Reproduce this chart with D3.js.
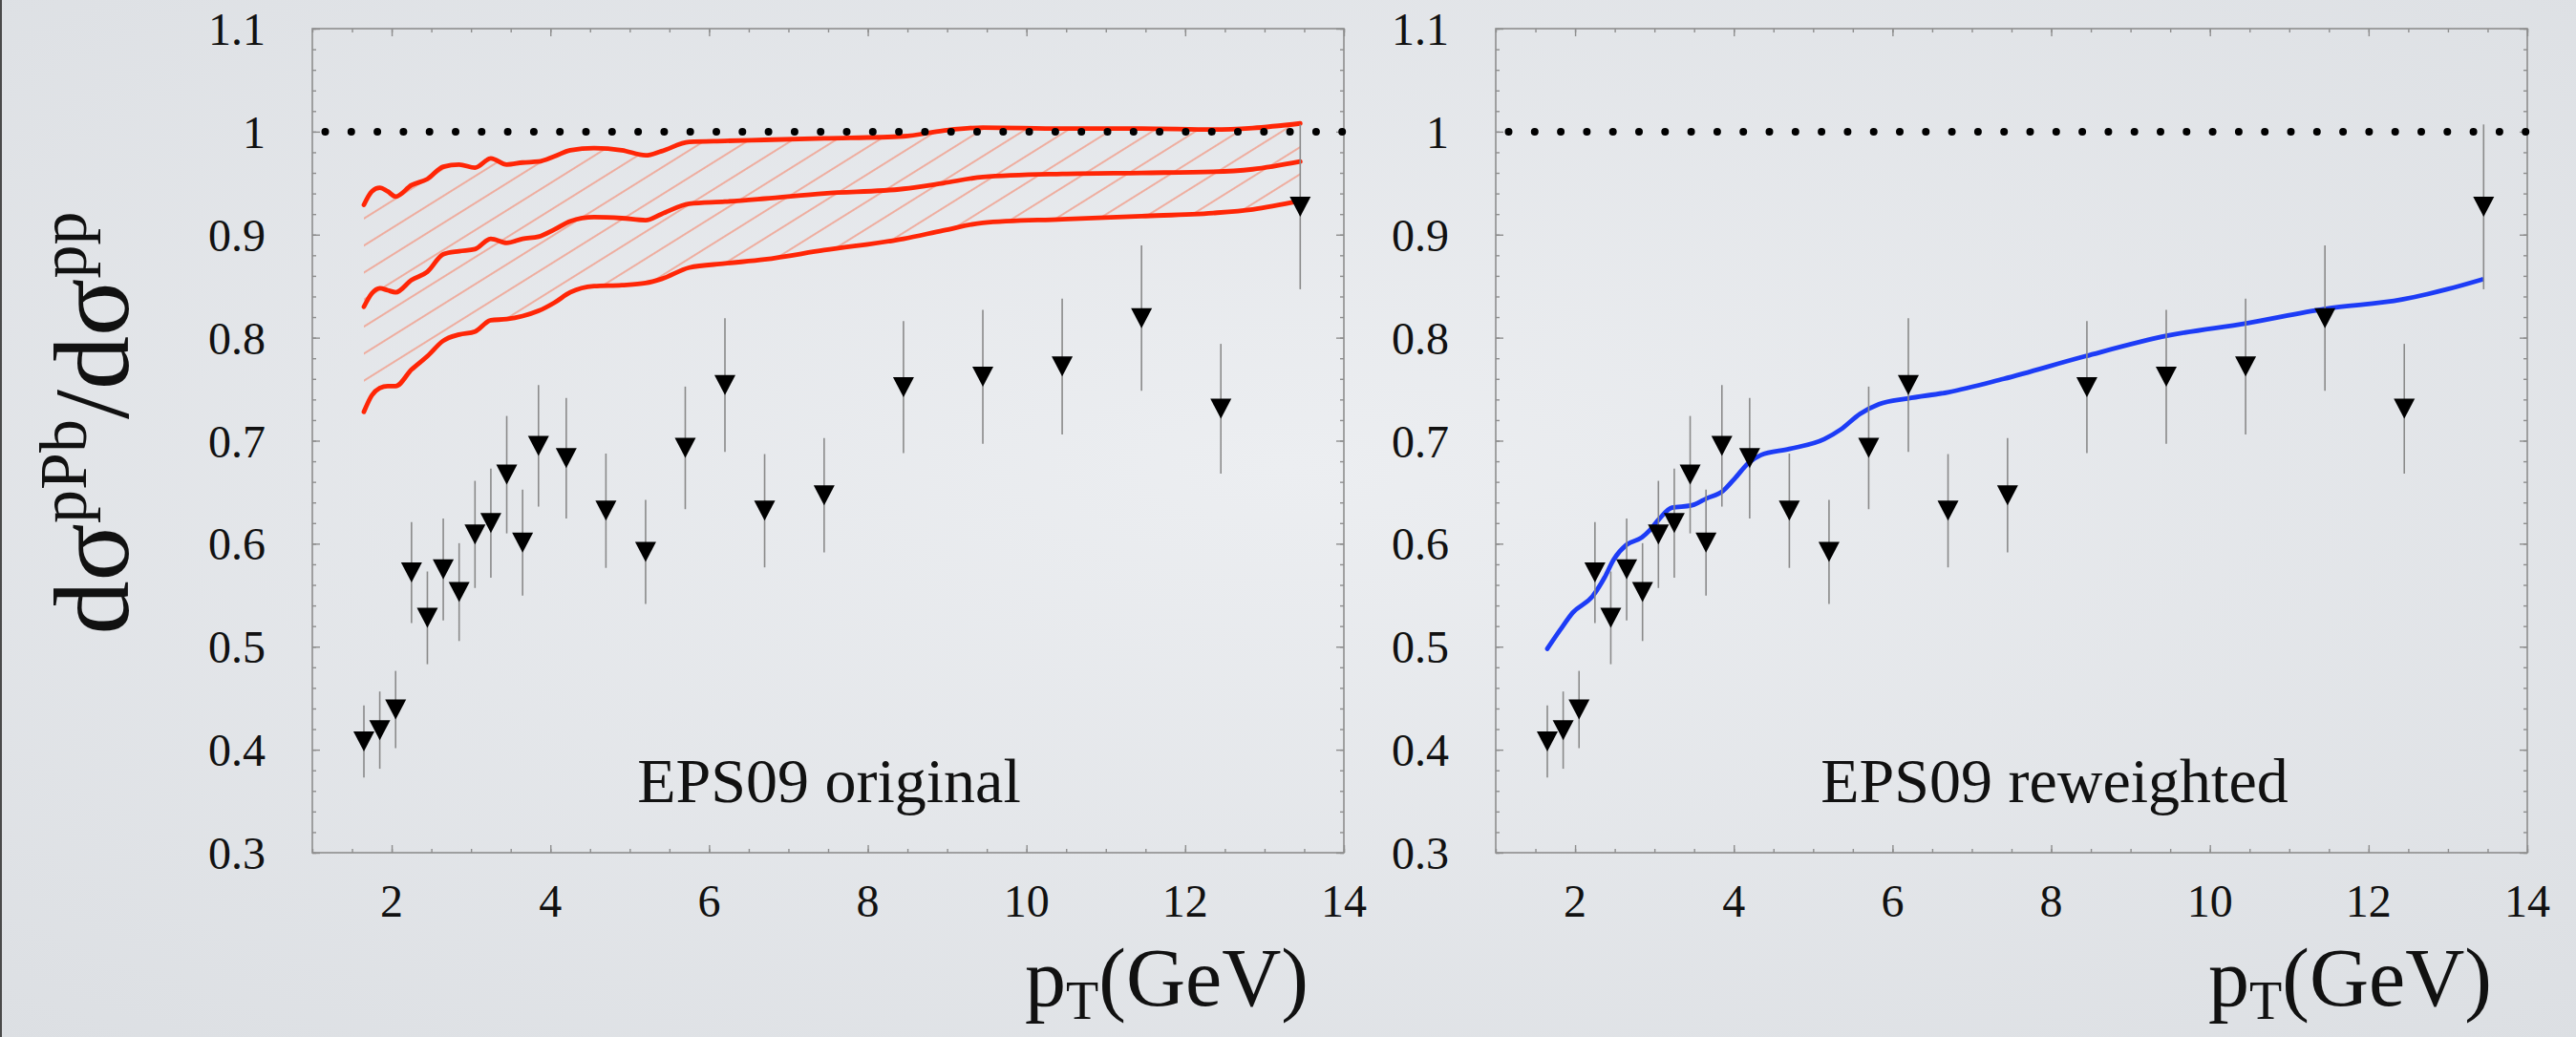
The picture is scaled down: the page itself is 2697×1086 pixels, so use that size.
<!DOCTYPE html>
<html>
<head>
<meta charset="utf-8">
<script src="https://cdn.jsdelivr.net/npm/d3@7"></script>
<style>
  html, body { margin: 0; padding: 0; overflow: hidden; background: #e4e6ea; }
  svg { display: block; }
  text { font-family: "Liberation Serif", "DejaVu Serif", serif; fill: #111; }
</style>
</head>
<body>
<svg id="chart" width="2697" height="1086" font-family="Liberation Serif, serif"></svg>
<script>
// ---- measured nuclear modification ratio (same data in both panels) ----
const ptBins = [1.65, 1.85, 2.05, 2.25, 2.45, 2.65, 2.85, 3.05, 3.25, 3.45, 3.65, 3.85,
                4.2, 4.7, 5.2, 5.7, 6.2, 6.7, 7.45, 8.45, 9.45, 10.45, 11.45, 12.45, 13.45];
const ratio = [0.408, 0.419, 0.439, 0.572, 0.528, 0.575, 0.553, 0.609, 0.620, 0.667, 0.601, 0.695,
               0.683, 0.632, 0.592, 0.693, 0.754, 0.632, 0.647, 0.752, 0.762, 0.772, 0.819, 0.731, 0.927];
const ratioErr = [0.035, 0.0375, 0.0375, 0.049, 0.045, 0.0495, 0.0475, 0.052, 0.053, 0.057, 0.0515, 0.059,
                  0.0585, 0.0555, 0.0505, 0.0595, 0.065, 0.055, 0.0555, 0.064, 0.065, 0.066, 0.0705, 0.063, 0.08];

// ---- EPS09 original: central set and uncertainty band ----
const bandPt = [1.65, 1.75, 1.85, 1.95, 2.05, 2.25, 2.45, 2.65, 2.85, 3.05, 3.25, 3.45, 3.65, 3.85,
                4.05, 4.25, 4.55, 4.9, 5.2, 5.4, 5.75, 6.2, 6.7, 7.45, 8.45, 8.95, 9.45, 10.45,
                11.45, 12.35, 12.85, 13.45];
const bandUpper = [0.929, 0.942, 0.9455, 0.942, 0.937, 0.948, 0.954, 0.966, 0.968, 0.965, 0.974, 0.968, 0.970, 0.971,
                   0.976, 0.982, 0.984, 0.982, 0.977, 0.981, 0.990, 0.991, 0.992, 0.9935, 0.9955, 1.001, 1.004, 1.003,
                   1.003, 1.002, 1.0035, 1.008];
const bandCentral = [0.830, 0.843, 0.848, 0.846, 0.844, 0.856, 0.864, 0.881, 0.884, 0.886, 0.896, 0.892, 0.896, 0.898,
                     0.905, 0.913, 0.917, 0.916, 0.914, 0.920, 0.930, 0.932, 0.935, 0.940, 0.9445, 0.950, 0.956, 0.959,
                     0.960, 0.961, 0.9635, 0.971];
const bandLower = [0.728, 0.744, 0.751, 0.753, 0.753, 0.769, 0.782, 0.797, 0.803, 0.806, 0.817, 0.818, 0.821, 0.826,
                   0.834, 0.844, 0.850, 0.851, 0.853, 0.857, 0.868, 0.872, 0.876, 0.885, 0.896, 0.904, 0.9115, 0.915,
                   0.918, 0.921, 0.9245, 0.933];

// ---- EPS09 reweighted ----
const rwPt = [1.65, 1.81, 1.97, 2.22, 2.37, 2.49, 2.65, 2.84, 2.94, 3.06, 3.22, 3.46, 3.66, 3.86, 4.02, 4.18,
              4.34, 4.70, 5.14, 5.35, 5.59, 5.83, 6.19, 6.7, 7.40, 8.43, 9.47, 10.46, 11.46, 12.42, 12.99, 13.43];
const rwRatio = [0.498, 0.516, 0.533, 0.549, 0.567, 0.585, 0.599, 0.606, 0.613, 0.624, 0.635, 0.637, 0.644, 0.651, 0.664, 0.678,
                 0.686, 0.692, 0.7015, 0.711, 0.726, 0.7355, 0.741, 0.747, 0.760, 0.782, 0.802, 0.814, 0.828, 0.837, 0.847, 0.8565];

// ---- axes ----
const xTicks = [2, 4, 6, 8, 10, 12, 14];
const yTicks = [0.3, 0.4, 0.5, 0.6, 0.7, 0.8, 0.9, 1.0, 1.1];
const yTickLabels = ["0.3", "0.4", "0.5", "0.6", "0.7", "0.8", "0.9", "1", "1.1"];
const panelLabels = ["EPS09 original", "EPS09 reweighted"];

const svg = d3.select("#chart");
const W = 2697, H = 1086;

// soft slide-like backdrop
const defs = svg.append("defs");
const bg = defs.append("radialGradient").attr("id", "bg").attr("cx", "50%").attr("cy", "45%").attr("r", "75%");
bg.append("stop").attr("offset", "0%").attr("stop-color", "#eceef1");
bg.append("stop").attr("offset", "100%").attr("stop-color", "#dcdfe3");
svg.append("rect").attr("width", W).attr("height", H).attr("fill", "url(#bg)");
svg.append("line").attr("x1", 1).attr("x2", 1).attr("y1", 0).attr("y2", H)
  .attr("stroke", "#4a4a4a").attr("stroke-width", 2);

// diagonal hatching for the uncertainty band
defs.append("pattern").attr("id", "hatch").attr("patternUnits", "userSpaceOnUse")
  .attr("width", 24).attr("height", 24).attr("patternTransform", "rotate(-32)")
  .append("line").attr("x1", 0).attr("x2", 24).attr("y1", 12).attr("y2", 12)
  .attr("stroke", "#f29580").attr("stroke-width", 1.4);

const plotTop = 30, plotBottom = 893;
const panels = [{ x0: 327, x1: 1407, label: panelLabels[0], labelX: 868 },
                { x0: 1566, x1: 2646, label: panelLabels[1], labelX: 2151 }];

const y = d3.scaleLinear().domain([0.3, 1.1]).range([plotBottom, plotTop]);
const yMinor = d3.range(0.3, 1.1001, 0.02).map(v => +v.toFixed(2));
const xMinor = d3.range(1, 14.001, 0.5);
const frameColor = "#8e8e8e";

panels.forEach((p, i) => {
  const x = d3.scaleLinear().domain([1, 14]).range([p.x0, p.x1]);
  p.x = x;
  const g = svg.append("g");

  // inward ticks on all four sides
  const tickStyle = sel => sel.call(s => s.select(".domain").remove())
    .call(s => s.selectAll("line").attr("stroke", frameColor).attr("stroke-width", 1.4));
  g.append("g").attr("transform", `translate(0,${plotBottom})`)
    .call(d3.axisBottom(x).tickValues(xMinor).tickSize(-4).tickFormat("")).call(tickStyle);
  g.append("g").attr("transform", `translate(0,${plotBottom})`)
    .call(d3.axisBottom(x).tickValues(xTicks).tickSize(-8).tickFormat("")).call(tickStyle);
  g.append("g").attr("transform", `translate(0,${plotTop})`)
    .call(d3.axisTop(x).tickValues(xMinor).tickSize(-4).tickFormat("")).call(tickStyle);
  g.append("g").attr("transform", `translate(0,${plotTop})`)
    .call(d3.axisTop(x).tickValues(xTicks).tickSize(-8).tickFormat("")).call(tickStyle);
  g.append("g").attr("transform", `translate(${p.x0},0)`)
    .call(d3.axisLeft(y).tickValues(yMinor).tickSize(-4).tickFormat("")).call(tickStyle);
  g.append("g").attr("transform", `translate(${p.x0},0)`)
    .call(d3.axisLeft(y).tickValues(yTicks).tickSize(-8).tickFormat("")).call(tickStyle);
  g.append("g").attr("transform", `translate(${p.x1},0)`)
    .call(d3.axisRight(y).tickValues(yMinor).tickSize(-4).tickFormat("")).call(tickStyle);
  g.append("g").attr("transform", `translate(${p.x1},0)`)
    .call(d3.axisRight(y).tickValues(yTicks).tickSize(-8).tickFormat("")).call(tickStyle);

  g.append("rect").attr("x", p.x0).attr("y", plotTop).attr("width", p.x1 - p.x0).attr("height", plotBottom - plotTop)
    .attr("fill", "none").attr("stroke", frameColor).attr("stroke-width", 1.6);

  // tick labels
  g.selectAll(".xl").data(xTicks).join("text")
    .attr("x", d => x(d)).attr("y", 960).attr("text-anchor", "middle")
    .attr("font-size", 48).text(d => d);
  g.selectAll(".yl").data(yTicks).join("text")
    .attr("x", p.x0 - 49).attr("y", d => y(d) + 17).attr("text-anchor", "end")
    .attr("font-size", 48).text((d, k) => yTickLabels[k]);

  // panel label
  g.append("text").attr("x", p.labelX).attr("y", 840).attr("text-anchor", "middle")
    .attr("font-size", 66).text(p.label);

  // x-axis title
  const xt = g.append("text").attr("x", p.x1 - 37).attr("y", 1053).attr("text-anchor", "end")
    .attr("font-size", 86);
  xt.append("tspan").text("p");
  xt.append("tspan").attr("font-size", 56).attr("dy", 14).text("T");
  xt.append("tspan").attr("dy", -14).text("(GeV)");
});

// ---- left panel: EPS09 original band ----
{
  const x = panels[0].x;
  const g = svg.append("g");
  const idx = d3.range(bandPt.length);
  g.append("path").datum(idx)
    .attr("d", d3.area().x(k => x(bandPt[k])).y0(k => y(bandLower[k])).y1(k => y(bandUpper[k]))
      .curve(d3.curveMonotoneX))
    .attr("fill", "url(#hatch)");
  [bandUpper, bandCentral, bandLower].forEach(arr => {
    g.append("path").datum(idx)
      .attr("d", d3.line().x(k => x(bandPt[k])).y(k => y(arr[k])).curve(d3.curveMonotoneX))
      .attr("fill", "none").attr("stroke", "#ff2606").attr("stroke-width", 4.8)
      .attr("stroke-linejoin", "round").attr("stroke-linecap", "round");
  });
}

// ---- right panel: EPS09 reweighted ----
{
  const x = panels[1].x;
  svg.append("path").datum(d3.range(rwPt.length))
    .attr("d", d3.line().x(k => x(rwPt[k])).y(k => y(rwRatio[k])).curve(d3.curveMonotoneX))
    .attr("fill", "none").attr("stroke", "#1d3cf6").attr("stroke-width", 4.8)
    .attr("stroke-linecap", "round");
}

// ---- unity reference line and data points in both panels ----
panels.forEach(p => {
  const x = p.x;
  const g = svg.append("g");
  g.append("line").attr("x1", x(1)).attr("x2", x(14)).attr("y1", y(1)).attr("y2", y(1))
    .attr("stroke", "#000").attr("stroke-width", 8).attr("stroke-linecap", "round")
    .attr("stroke-dasharray", "0 27.3").attr("stroke-dashoffset", -13.5);

  const pts = g.selectAll(".pt").data(d3.range(ptBins.length)).join("g");
  pts.append("line")
    .attr("x1", k => x(ptBins[k])).attr("x2", k => x(ptBins[k]))
    .attr("y1", k => y(ratio[k] + ratioErr[k])).attr("y2", k => y(ratio[k] - ratioErr[k]))
    .attr("stroke", "#8a8a8a").attr("stroke-width", 1.6);
  pts.append("path")
    .attr("transform", k => `translate(${x(ptBins[k])},${y(ratio[k])})`)
    .attr("d", "M-11,-10.5L11,-10.5L0,10.5Z").attr("fill", "#000");
});

// ---- shared y-axis title ----
const yt = svg.append("text").attr("transform", "translate(134,443) rotate(-90)")
  .attr("text-anchor", "middle").attr("font-size", 112);
yt.append("tspan").text("dσ");
yt.append("tspan").attr("font-size", 70).attr("dy", -44).text("pPb");
yt.append("tspan").attr("dy", 44).text("/dσ");
yt.append("tspan").attr("font-size", 70).attr("dy", -44).text("pp");
</script>
</body>
</html>
